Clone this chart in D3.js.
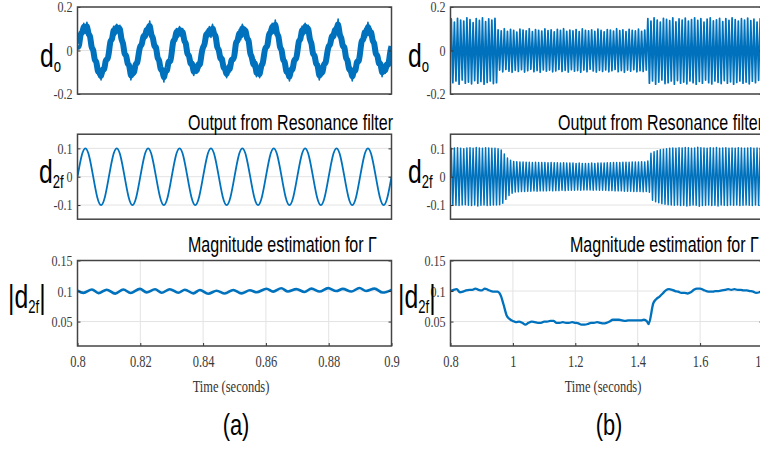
<!DOCTYPE html>
<html><head><meta charset="utf-8">
<script src="https://cdn.jsdelivr.net/npm/d3@7"></script>
<style>
html,body{margin:0;padding:0;background:#fff;overflow:hidden}
svg{display:block}
</style></head><body>
<svg id="c" width="760" height="455"></svg>
<script>
// ---------------- DATA ----------------
// (a) left column, time 0.8 .. 0.9 s
const leftXTicks = [0.8, 0.82, 0.84, 0.86, 0.88, 0.9];
const leftXLabels = ["0.8", "0.82", "0.84", "0.86", "0.88", "0.9"];
// (b) right column, time 0.8 .. 1.8 s
const rightXTicks = [0.8, 1, 1.2, 1.4, 1.6, 1.8];
const rightXLabels = ["0.8", "1", "1.2", "1.4", "1.6", "1.8"];

const topYTicks = [-0.2, 0, 0.2];
const topYLabels = ["-0.2", "0", "0.2"];
const midYTicks = [-0.1, 0, 0.1];
const midYLabels = ["-0.1", "0", "0.1"];
const botYTicks = [0.05, 0.1, 0.15];
const botYLabels = ["0.05", "0.1", "0.15"];

const titles = ["Output from Resonance filter", "Magnitude estimation for \u0393"];
const xAxisTitle = "Time (seconds)";
const panelTags = ["(a)", "(b)"];

// d_o, left: samples every 0.0005 s starting at 0.8 s
const doLeftStep = 0.0005;
const doLeft = [
 0.02,0.011,0.089,0.071,0.125,0.08,0.13,0.066,0.079,0.001,0.015,-0.056,-0.039,-0.111,-0.085,-0.135,-0.075,-0.101,-0.034,-0.046,
 -0.015,0.056,0.039,0.111,0.07,0.12,0.085,0.116,0.039,0.046,-0.03,-0.011,-0.074,-0.056,-0.135,-0.085,-0.115,-0.051,-0.069,-0.011,
 0.025,0.021,0.079,0.051,0.11,0.075,0.135,0.061,0.069,0.006,0.03,-0.046,-0.034,-0.101,-0.075,-0.145,-0.08,-0.106,-0.039,-0.061,
 -0.015,0.056,0.039,0.101,0.06,0.11,0.065,0.101,0.034,0.046,-0.03,-0.011,-0.074,-0.046,-0.115,-0.07,-0.105,-0.051,-0.079,-0.011,
 0.02,0.021,0.089,0.061,0.11,0.06,0.12,0.066,0.079,0.001,0.015,-0.051,-0.024,-0.091,-0.075,-0.125,-0.065,-0.101,-0.034,-0.046,
 -0.03,0.051,0.034,0.096,0.05,0.12,0.075,0.106,0.044,0.061,-0.025,-0.021,-0.079,-0.041,-0.12,-0.085,-0.125,-0.061,-0.069,-0.006,
 0.02,0.011,0.089,0.071,0.125,0.08,0.14,0.066,0.079,0.001,0.015,-0.056,-0.039,-0.111,-0.085,-0.14,-0.075,-0.101,-0.034,-0.046,
 -0.015,0.056,0.039,0.111,0.07,0.125,0.085,0.116,0.039,0.046,-0.03,-0.011,-0.074,-0.056,-0.135,-0.085,-0.115,-0.051,-0.069,-0.011,
 0.025,0.021,0.079,0.051,0.11,0.075,0.145,0.061,0.069,0.006,0.03,-0.046,-0.034,-0.101,-0.075,-0.14,-0.08,-0.106,-0.039,-0.061,
 -0.015,0.056,0.039,0.101,0.06,0.13,0.065,0.101,0.034,0.046,-0.03,-0.011,-0.074,-0.046,-0.12,-0.07,-0.105,-0.051,-0.079,-0.011,
 0.02
];

// d_2f, left: samples every 0.00125 s starting at 0.8 s
const d2fLeftStep = 0.00125;
const d2fLeft = [
 0,0.0707,0.1,0.0707,0,-0.0707,-0.1,-0.0707,
 0,0.0707,0.1,0.0707,0,-0.0707,-0.1,-0.0707,
 0,0.0707,0.1,0.0707,0,-0.0707,-0.1,-0.0707,
 0,0.0707,0.1,0.0707,0,-0.0707,-0.1,-0.0707,
 0,0.0707,0.1,0.0707,0,-0.0707,-0.1,-0.0707,
 0,0.0707,0.1,0.0707,0,-0.0707,-0.1,-0.0707,
 0,0.0707,0.1,0.0707,0,-0.0707,-0.1,-0.0707,
 0,0.0707,0.1,0.0707,0,-0.0707,-0.1,-0.0707,
 0,0.0707,0.1,0.0707,0,-0.0707,-0.1,-0.0707,
 0,0.0707,0.1,0.0707,0,-0.0707,-0.1,-0.0707,
 0
];

// |d_2f|, left: [time, value] read at ripple peaks / dips
const magLeft = [
 [0.8000,0.1005],[0.8019,0.0970],[0.8046,0.1025],[0.8067,0.0965],[0.8093,0.1022],[0.8120,0.0958],
 [0.8146,0.1025],[0.8169,0.0968],[0.8199,0.1035],[0.8220,0.0978],[0.8247,0.1030],[0.8268,0.0972],
 [0.8294,0.1030],[0.8321,0.0972],[0.8342,0.1022],[0.8369,0.0962],[0.8390,0.1018],[0.8416,0.0955],
 [0.8443,0.1005],[0.8469,0.0960],[0.8496,0.1018],[0.8522,0.0962],[0.8549,0.1012],[0.8570,0.0980],
 [0.8602,0.1038],[0.8623,0.0990],[0.8649,0.1045],[0.8670,0.0992],[0.8697,0.1032],[0.8723,0.0985],
 [0.8745,0.1040],[0.8771,0.0992],[0.8798,0.1048],[0.8824,0.1000],[0.8845,0.1035],[0.8872,0.0992],
 [0.8898,0.1050],[0.8919,0.1000],[0.8946,0.1040],[0.8972,0.0975],[0.9000,0.1020]
];

// d_o, right: one peak and one trough per 0.01 s cycle, starting at 0.8 s
const cycleRight = 0.01;
const doRightPeaks = [
 0.145,0.13,0.148,0.14,0.135,0.15,0.142,0.128,0.147,0.138,0.15,0.133,0.145,0.14,0.148,
 0.095,0.09,0.1,0.088,0.097,0.092,0.085,0.098,0.094,0.09,
 0.1,0.087,0.096,0.093,0.089,0.099,0.091,0.095,0.086,0.097,
 0.092,0.1,0.088,0.094,0.09,0.096,0.087,0.099,0.093,0.09,
 0.095,0.088,0.098,0.092,0.086,0.096,0.094,0.089,0.1,0.091,
 0.095,0.087,0.097,0.093,0.09,0.098,0.088,0.094,
 0.147,0.135,0.15,0.14,0.13,0.148,0.143,0.137,0.15,0.132,
 0.145,0.14,0.149,0.135,0.142,0.15,0.138,0.146,0.13,0.144,
 0.15,0.136,0.141,0.148,0.133,0.147,0.139,0.15,0.142,0.135,
 0.146,0.14,0.149,0.137,0.144,0.131,0.146
];
const doRightTroughs = [
 -0.148,-0.14,-0.155,-0.135,-0.15,-0.145,-0.153,-0.138,-0.15,-0.142,-0.155,-0.147,-0.14,-0.152,-0.148,
 -0.09,-0.098,-0.087,-0.095,-0.1,-0.091,-0.096,-0.088,-0.099,-0.093,
 -0.086,-0.097,-0.092,-0.1,-0.089,-0.095,-0.09,-0.098,-0.094,-0.087,
 -0.096,-0.091,-0.099,-0.088,-0.095,-0.092,-0.1,-0.09,-0.097,-0.086,
 -0.094,-0.099,-0.091,-0.096,-0.089,-0.098,-0.093,-0.087,-0.097,-0.092,
 -0.1,-0.09,-0.095,-0.088,-0.098,-0.093,-0.096,-0.09,
 -0.15,-0.14,-0.155,-0.145,-0.135,-0.152,-0.148,-0.14,-0.155,-0.138,
 -0.15,-0.145,-0.153,-0.14,-0.148,-0.155,-0.142,-0.15,-0.136,-0.148,
 -0.154,-0.14,-0.146,-0.152,-0.138,-0.15,-0.144,-0.155,-0.147,-0.14,
 -0.15,-0.145,-0.153,-0.141,-0.148,-0.137,-0.15
];

// d_2f, right: amplitude of each 0.01 s cycle, starting at 0.8 s
const d2fRightAmp = [
 0.1,0.101,0.102,0.1,0.099,0.101,0.102,0.1,0.103,0.101,0.1,0.102,0.101,0.1,0.1,
 0.099,0.094,0.08,0.066,0.058,0.054,
 0.053,0.052,0.052,0.051,0.051,0.05,0.051,0.05,0.05,0.05,0.049,0.05,0.049,0.049,0.048,0.049,0.048,0.048,0.048,0.047,0.048,0.047,
 0.047,0.047,0.048,0.047,0.048,0.048,0.048,0.049,0.049,0.05,0.05,0.05,0.051,0.051,0.051,0.052,0.052,0.052,0.053,0.052,
 0.055,0.083,0.088,0.092,0.095,0.097,0.099,
 0.1,0.101,0.1,0.102,0.101,0.103,0.102,0.1,0.101,0.104,0.102,0.101,0.1,0.102,0.101,
 0.103,0.1,0.101,0.102,0.1,0.101,0.1,0.102,0.101,0.1,0.101,0.102,0.1,0.101,0.1
];

// |d_2f|, right: [time, value]
const magRight = [
 [0.80,0.100],[0.81,0.102],[0.82,0.103],[0.83,0.098],[0.84,0.099],[0.85,0.101],[0.86,0.102],[0.87,0.102],
 [0.88,0.104],[0.89,0.102],[0.90,0.101],[0.91,0.104],[0.92,0.102],[0.93,0.100],[0.94,0.099],[0.95,0.099],
 [0.96,0.094],[0.97,0.078],[0.98,0.060],[0.99,0.054],[1.00,0.051],[1.01,0.049],[1.02,0.050],[1.03,0.048],
 [1.04,0.045],[1.05,0.048],[1.06,0.050],[1.07,0.049],[1.08,0.048],[1.09,0.048],[1.10,0.050],[1.11,0.050],
 [1.12,0.051],[1.13,0.051],[1.14,0.048],[1.15,0.048],[1.16,0.049],[1.17,0.048],[1.18,0.048],[1.19,0.049],
 [1.20,0.048],[1.21,0.047],[1.22,0.045],[1.23,0.045],[1.24,0.046],[1.25,0.048],[1.26,0.048],[1.27,0.049],
 [1.28,0.048],[1.29,0.047],[1.30,0.048],[1.31,0.050],[1.32,0.053],[1.33,0.053],[1.34,0.053],[1.35,0.052],
 [1.36,0.051],[1.37,0.052],[1.38,0.052],[1.39,0.052],[1.40,0.052],[1.41,0.052],[1.42,0.053],[1.43,0.050],
 [1.435,0.046],[1.45,0.080],[1.46,0.087],[1.47,0.091],[1.48,0.096],[1.49,0.101],[1.50,0.103],[1.51,0.102],
 [1.52,0.100],[1.53,0.099],[1.54,0.097],[1.55,0.097],[1.56,0.096],[1.57,0.098],[1.58,0.102],[1.59,0.104],
 [1.60,0.104],[1.61,0.102],[1.62,0.100],[1.63,0.099],[1.64,0.099],[1.65,0.100],[1.66,0.100],[1.67,0.101],
 [1.68,0.102],[1.69,0.103],[1.70,0.102],[1.71,0.103],[1.72,0.102],[1.73,0.102],[1.74,0.101],[1.75,0.101],
 [1.76,0.100],[1.77,0.099],[1.78,0.097],[1.79,0.098],[1.80,0.100]
];

// ---------------- LAYOUT / STYLE ----------------
const COLOR = "#0072BD";
const SERIF = '"Liberation Serif","Times New Roman",serif';
const SANS = '"Liberation Sans",Arial,sans-serif';
const SERIF_SX = 0.78;
const svg = d3.select("#c");

const cols = [
  {xr: [77.5, 391.5], dom: [0.8, 0.9], ticks: leftXTicks, labels: leftXLabels},
  {xr: [450.5, 762.5], dom: [0.8, 1.8], ticks: rightXTicks, labels: rightXLabels}
];
const rows = [
  {yr: [7, 94], dom: [-0.2, 0.2], ticks: topYTicks, labels: topYLabels, xgrid: false},
  {yr: [134.2, 219.2], dom: [-0.15, 0.15], ticks: midYTicks, labels: midYLabels, xgrid: false},
  {yr: [260.5, 346], dom: [0.01, 0.15], ticks: botYTicks, labels: botYLabels, xgrid: true}
];

// measure sans text to get condensed scale
const probe = svg.append("text").attr("font-family", SANS).attr("font-size", 22).text(titles[0]);
const SANS_SX = 205 / probe.node().getComputedTextLength();
probe.remove();

let clipN = 0;
function makePanel(c, r, drawData) {
  const x = d3.scaleLinear().domain(c.dom).range(c.xr);
  const y = d3.scaleLinear().domain(r.dom).range([r.yr[1], r.yr[0]]);
  const g = svg.append("g");
  g.selectAll("line.hg").data(r.ticks).join("line").attr("class", "hg")
    .attr("x1", c.xr[0]).attr("x2", c.xr[1]).attr("y1", d => y(d)).attr("y2", d => y(d))
    .attr("stroke", "#e3e3e3").attr("stroke-width", 1);
  if (r.xgrid) {
    g.selectAll("line.vg").data(c.ticks).join("line").attr("class", "vg")
      .attr("x1", d => x(d)).attr("x2", d => x(d)).attr("y1", r.yr[0]).attr("y2", r.yr[1])
      .attr("stroke", "#e3e3e3").attr("stroke-width", 1);
  }
  const id = "clip" + (clipN++);
  svg.append("clipPath").attr("id", id).append("rect")
    .attr("x", c.xr[0]).attr("y", r.yr[0]).attr("width", c.xr[1] - c.xr[0]).attr("height", r.yr[1] - r.yr[0]);
  const dg = g.append("g").attr("clip-path", `url(#${id})`);
  drawData(dg, x, y);
  const ay = d3.axisLeft(y).tickValues(r.ticks).tickFormat((d, i) => r.labels[i])
    .tickSizeInner(-3).tickSizeOuter(0).tickPadding(5);
  const gA = g.append("g").attr("transform", `translate(${c.xr[0]},0)`).call(ay);
  gA.select(".domain").remove();
  gA.selectAll(".tick line").attr("stroke", "#333");
  gA.selectAll(".tick text").attr("font-family", SERIF).attr("font-size", 15.5).attr("fill", "#3a3a3a")
    .attr("x", -5 / SERIF_SX).attr("transform", `scale(${SERIF_SX},1)`);
  const ayR = d3.axisRight(y).tickValues(r.ticks).tickFormat(() => "").tickSizeInner(-3).tickSizeOuter(0);
  const gR = g.append("g").attr("transform", `translate(${c.xr[1]},0)`).call(ayR);
  gR.select(".domain").remove();
  gR.selectAll(".tick line").attr("stroke", "#333");
  if (r.xgrid) {
    const ax = d3.axisBottom(x).tickValues(c.ticks).tickFormat((d, i) => c.labels[i])
      .tickSizeInner(-3).tickSizeOuter(0).tickPadding(10);
    const gX = g.append("g").attr("transform", `translate(0,${r.yr[1]})`).call(ax);
    gX.select(".domain").remove();
    gX.selectAll(".tick line").attr("stroke", "#333");
    gX.selectAll(".tick text").attr("font-family", SERIF).attr("font-size", 16).attr("fill", "#3a3a3a")
      .attr("transform", `scale(${SERIF_SX},1)`);
  }
  g.append("rect").attr("x", c.xr[0]).attr("y", r.yr[0])
    .attr("width", c.xr[1] - c.xr[0]).attr("height", r.yr[1] - r.yr[0])
    .attr("fill", "none").attr("stroke", "#444").attr("stroke-width", 1.5);
  return {x, y, g};
}

function pathLine(dg, x, y, pts, width, curve) {
  const line = d3.line().x(d => x(d[0])).y(d => y(d[1])).curve(curve || d3.curveLinear);
  dg.append("path").datum(pts).attr("d", line).attr("fill", "none")
    .attr("stroke", COLOR).attr("stroke-width", width).attr("stroke-linejoin", "round");
}

function zigzag(t0, period, peaks, troughs) {
  const pts = [[t0, 0]];
  peaks.forEach((p, i) => {
    pts.push([t0 + (i + 0.25) * period, p]);
    pts.push([t0 + (i + 0.75) * period, troughs[i]]);
  });
  pts.push([t0 + peaks.length * period, 0]);
  return pts;
}

// Left column
makePanel(cols[0], rows[0], (dg, x, y) => {
  const pts = doLeft.map((v, i) => [0.8 + i * doLeftStep, v]);
  pathLine(dg, x, y, pts, 6, d3.curveBasis);   // dense noisy band body
  pathLine(dg, x, y, pts, 1.6);                // jagged noise edges
});
makePanel(cols[0], rows[1], (dg, x, y) =>
  pathLine(dg, x, y, d2fLeft.map((v, i) => [0.8 + i * d2fLeftStep, v]), 1.8, d3.curveNatural));
makePanel(cols[0], rows[2], (dg, x, y) =>
  pathLine(dg, x, y, magLeft, 2.6, d3.curveMonotoneX));
// Right column
makePanel(cols[1], rows[0], (dg, x, y) =>
  pathLine(dg, x, y, zigzag(0.8, cycleRight, doRightPeaks, doRightTroughs), 1.75));
makePanel(cols[1], rows[1], (dg, x, y) =>
  pathLine(dg, x, y, zigzag(0.8, cycleRight, d2fRightAmp, d2fRightAmp.map(a => -a)), 1.5));
makePanel(cols[1], rows[2], (dg, x, y) =>
  pathLine(dg, x, y, magRight, 2.3, d3.curveMonotoneX));

// ---------------- TEXT ----------------
function sansText(x, y, size, anchor) {
  return svg.append("text").attr("transform", `translate(${x},${y}) scale(${SANS_SX},1)`)
    .attr("font-family", SANS).attr("font-size", size).attr("fill", "#000").attr("text-anchor", anchor || "start");
}
sansText(188, 130, 22).text(titles[0]);
sansText(188, 251.5, 22).text(titles[1]);
sansText(558, 130, 22).text(titles[0]);
sansText(570, 251.5, 22).text(titles[1]);

function subLabel(x, y, main, sub, bars) {
  const t = sansText(x, y, 34);
  if (bars) t.append("tspan").text("|");
  t.append("tspan").text(main);
  t.append("tspan").attr("font-size", 18).attr("dy", 5).text(sub);
  if (bars) t.append("tspan").attr("dy", -5).text("|");
}
subLabel(40, 66.5, "d", "o", false);
subLabel(39, 183, "d", "2f", false);
subLabel(8, 308, "d", "2f", true);
subLabel(408, 66.5, "d", "o", false);
subLabel(408, 183, "d", "2f", false);
subLabel(398, 308, "d", "2f", true);

function serifText(x, y, size) {
  return svg.append("text").attr("transform", `translate(${x},${y}) scale(${SERIF_SX},1)`)
    .attr("font-family", SERIF).attr("font-size", size).attr("fill", "#333").attr("text-anchor", "middle");
}
serifText(231, 392, 16).text(xAxisTitle);
serifText(603, 392, 16).text(xAxisTitle);

sansText(236, 435, 30, "middle").text(panelTags[0]);
sansText(609, 435, 30, "middle").text(panelTags[1]);
</script></body></html>
